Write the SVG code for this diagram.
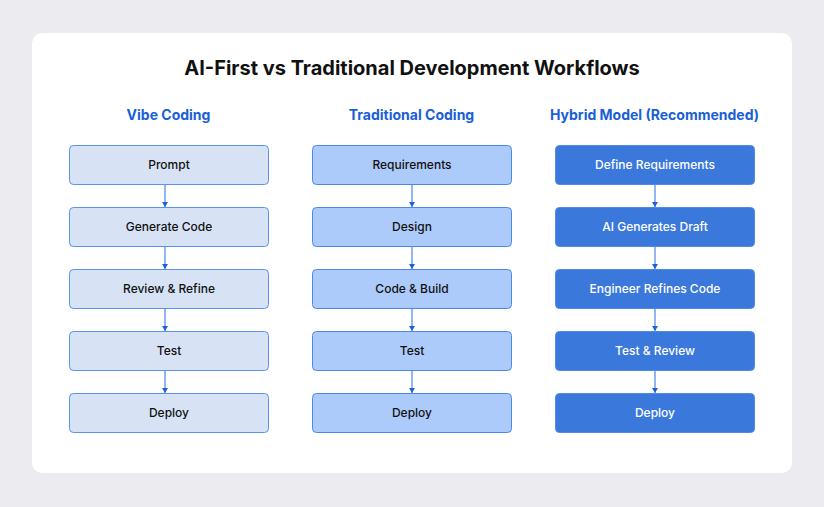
<svg xmlns="http://www.w3.org/2000/svg" width="824" height="507" viewBox="0 0 824 507">
<defs>
<style>
text{font-family:Inter,"Noto Sans","Liberation Sans",sans-serif;text-anchor:middle}
.title{font-size:20px;font-weight:700;fill:#111}
.hdr{font-size:14px;font-weight:700;fill:#1a5fd6}
.b1{fill:#d7e3f5;stroke:#5a93ec;stroke-width:1}
.b2{fill:#adcbfa;stroke:#4a88ee;stroke-width:1}
.b3{fill:#3a78dc;stroke:#4f8ae6;stroke-width:1}
.t{font-size:12px;font-weight:500;fill:#111}
.tw{font-size:12px;font-weight:500;fill:#fff}
.c{stroke:#6d9ef0;stroke-width:1.5;fill:none;marker-end:url(#ah)}
</style>
<marker id="ah" viewBox="0 0 6 5" refX="3" refY="5" markerWidth="6" markerHeight="5" orient="0" markerUnits="userSpaceOnUse">
<path d="M0,0 L6,0 L3,5 z" fill="#1f5fd8"/>
</marker>
</defs>
<rect width="824" height="507" fill="#ebebf0"/>
<rect x="32" y="33" width="760" height="440" rx="10" fill="#fff"/>
<text class="title" x="412" y="75">AI-First vs Traditional Development Workflows</text>
<text class="hdr" x="168.5" y="120">Vibe Coding</text>
<text class="hdr" x="411.5" y="120">Traditional Coding</text>
<text class="hdr" x="654.5" y="120">Hybrid Model (Recommended)</text>
<g id="connectors">
<line class="c" x1="165" y1="184.5" x2="165" y2="207"/>
<line class="c" x1="165" y1="246.5" x2="165" y2="269"/>
<line class="c" x1="165" y1="308.5" x2="165" y2="331"/>
<line class="c" x1="165" y1="370.5" x2="165" y2="393"/>
<line class="c" x1="412" y1="184.5" x2="412" y2="207"/>
<line class="c" x1="412" y1="246.5" x2="412" y2="269"/>
<line class="c" x1="412" y1="308.5" x2="412" y2="331"/>
<line class="c" x1="412" y1="370.5" x2="412" y2="393"/>
<line class="c" x1="655" y1="184.5" x2="655" y2="207"/>
<line class="c" x1="655" y1="246.5" x2="655" y2="269"/>
<line class="c" x1="655" y1="308.5" x2="655" y2="331"/>
<line class="c" x1="655" y1="370.5" x2="655" y2="393"/>
</g>
<g id="v1"><rect class="b1" x="69.5" y="145.5" width="199" height="39" rx="4"/><text class="t" x="169" y="169">Prompt</text></g>
<g id="v2"><rect class="b1" x="69.5" y="207.5" width="199" height="39" rx="4"/><text class="t" x="169" y="231">Generate Code</text></g>
<g id="v3"><rect class="b1" x="69.5" y="269.5" width="199" height="39" rx="4"/><text class="t" x="169" y="293">Review &amp; Refine</text></g>
<g id="v4"><rect class="b1" x="69.5" y="331.5" width="199" height="39" rx="4"/><text class="t" x="169" y="355">Test</text></g>
<g id="v5"><rect class="b1" x="69.5" y="393.5" width="199" height="39" rx="4"/><text class="t" x="169" y="417">Deploy</text></g>
<g id="t1"><rect class="b2" x="312.5" y="145.5" width="199" height="39" rx="4"/><text class="t" x="412" y="169">Requirements</text></g>
<g id="t2"><rect class="b2" x="312.5" y="207.5" width="199" height="39" rx="4"/><text class="t" x="412" y="231">Design</text></g>
<g id="t3"><rect class="b2" x="312.5" y="269.5" width="199" height="39" rx="4"/><text class="t" x="412" y="293">Code &amp; Build</text></g>
<g id="t4"><rect class="b2" x="312.5" y="331.5" width="199" height="39" rx="4"/><text class="t" x="412" y="355">Test</text></g>
<g id="t5"><rect class="b2" x="312.5" y="393.5" width="199" height="39" rx="4"/><text class="t" x="412" y="417">Deploy</text></g>
<g id="h1"><rect class="b3" x="555.5" y="145.5" width="199" height="39" rx="4"/><text class="tw" x="655" y="169">Define Requirements</text></g>
<g id="h2"><rect class="b3" x="555.5" y="207.5" width="199" height="39" rx="4"/><text class="tw" x="655" y="231">AI Generates Draft</text></g>
<g id="h3"><rect class="b3" x="555.5" y="269.5" width="199" height="39" rx="4"/><text class="tw" x="655" y="293">Engineer Refines Code</text></g>
<g id="h4"><rect class="b3" x="555.5" y="331.5" width="199" height="39" rx="4"/><text class="tw" x="655" y="355">Test &amp; Review</text></g>
<g id="h5"><rect class="b3" x="555.5" y="393.5" width="199" height="39" rx="4"/><text class="tw" x="655" y="417">Deploy</text></g>
</svg>
